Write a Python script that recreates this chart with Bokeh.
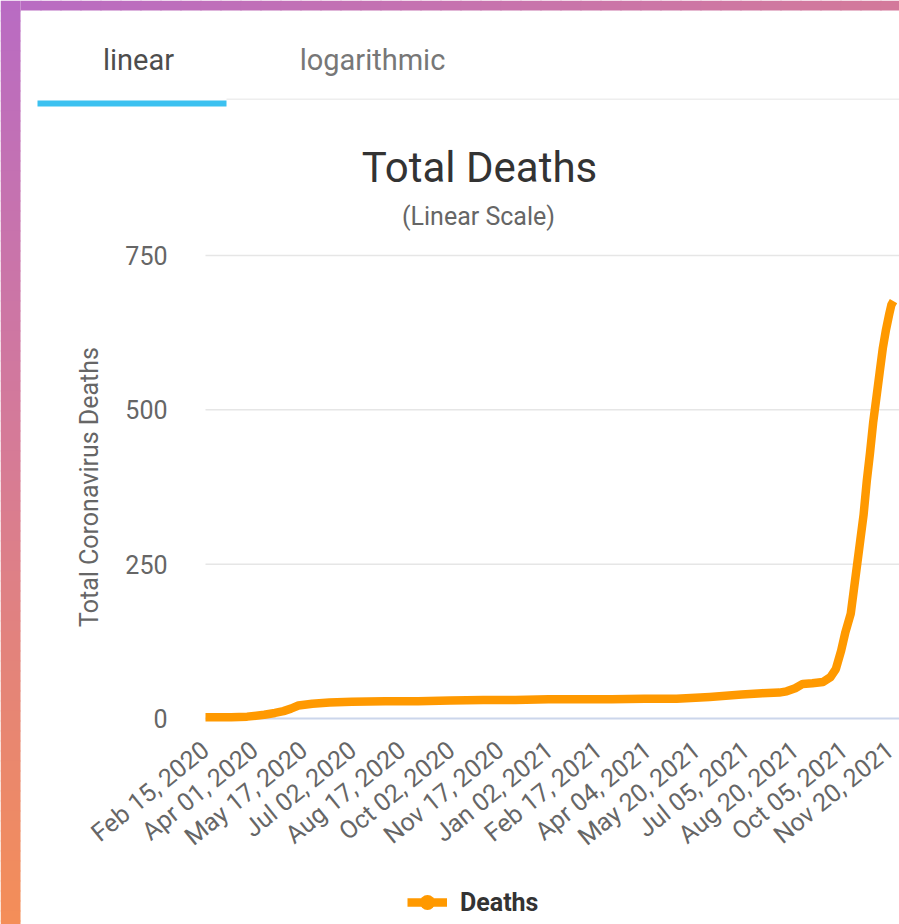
import pandas as pd
from bokeh.plotting import figure
from bokeh.models import (Range1d, FixedTicker, Label, BoxAnnotation, Legend,
                          LegendItem, ColumnDataSource)
from bokeh.embed import file_html
from bokeh.resources import INLINE

# ---------------- data ----------------
dates = [
    "2020-02-15", "2020-03-10", "2020-03-25", "2020-04-10", "2020-04-20",
    "2020-04-28", "2020-05-05", "2020-05-12", "2020-05-25", "2020-06-10",
    "2020-07-01", "2020-08-01", "2020-09-01", "2020-10-01", "2020-11-01",
    "2020-12-01", "2021-01-01", "2021-02-01", "2021-03-01", "2021-04-01",
    "2021-05-01", "2021-06-01", "2021-07-01", "2021-07-20", "2021-08-05",
    "2021-08-12", "2021-08-20", "2021-08-27", "2021-09-05", "2021-09-15",
    "2021-09-22", "2021-09-27", "2021-10-02", "2021-10-06", "2021-10-11",
    "2021-10-14", "2021-10-17", "2021-10-20", "2021-10-23", "2021-10-26",
    "2021-10-29", "2021-11-01", "2021-11-04", "2021-11-07", "2021-11-10",
    "2021-11-13", "2021-11-16", "2021-11-18", "2021-11-20",
]
deaths = [
    2, 2, 3, 6, 9,
    12, 16, 21, 24, 26,
    27, 28, 28, 29, 30,
    30, 31, 31, 31, 32,
    32, 35, 39, 41, 42,
    44, 49, 56, 57, 59,
    67, 80, 110, 140, 170,
    210, 250, 290, 330, 385,
    430, 480, 520, 560, 600,
    630, 655, 670, 676,
]
tick_labels = [
    "Feb 15, 2020", "Apr 01, 2020", "May 17, 2020", "Jul 02, 2020",
    "Aug 17, 2020", "Oct 02, 2020", "Nov 17, 2020", "Jan 02, 2021",
    "Feb 17, 2021", "Apr 04, 2021", "May 20, 2021", "Jul 05, 2021",
    "Aug 20, 2021", "Oct 05, 2021", "Nov 20, 2021",
]
y_ticks = [0, 250, 500, 750]
series_name = "Deaths"

# ---------------- derived ----------------
start = pd.Timestamp(tick_labels[0])
day_index = [(pd.Timestamp(d) - start).days for d in dates]
tick_pos = [(pd.Timestamp(t) - start).days for t in tick_labels]
src = ColumnDataSource(data=dict(x=day_index, y=deaths))

FONT = "Roboto"
ORANGE = "#ff9900"

# ---------------- geometry (canvas pixels) ----------------
W, H = 899, 924
PX_LEFT, PX_RIGHT = 205, 893      # first / last category tick
PY_ZERO, PY_TOP = 718, 255        # y = 0 / y = 750

kx = (PX_RIGHT - PX_LEFT) / (tick_pos[-1] - tick_pos[0])
ky = (PY_ZERO - PY_TOP) / (y_ticks[-1] - y_ticks[0])
x_start = tick_pos[0] - PX_LEFT / kx
x_end = tick_pos[0] + (W - PX_LEFT) / kx
y_start = y_ticks[0] - (H - PY_ZERO) / ky
y_end = y_ticks[0] + PY_ZERO / ky

p = figure(width=W, height=H, output_backend="svg", toolbar_location=None,
           x_range=Range1d(x_start, x_end), y_range=Range1d(y_start, y_end),
           min_border=0)
p.outline_line_color = None
p.background_fill_color = "white"
p.border_fill_color = "white"
p.grid.visible = False

# grid lines (drawn from the y tick list)
grid_colors = ["#ccd6eb" if v == 0 else "#e6e6e6" for v in y_ticks]
p.segment(x0=[tick_pos[0]] * len(y_ticks), x1=[x_end] * len(y_ticks),
          y0=y_ticks, y1=y_ticks, line_color=grid_colors,
          line_width=[2 if v == 0 else 1.5 for v in y_ticks], level="underlay")

xa = p.xaxis[0]
xa.fixed_location = y_ticks[0]
xa.bounds = (tick_pos[0], tick_pos[-1])
xa.ticker = FixedTicker(ticks=tick_pos)
xa.major_label_overrides = dict(zip(tick_pos, tick_labels))
xa.major_label_orientation = 0.68
xa.axis_line_color = None
xa.major_tick_line_color = None
xa.minor_tick_line_color = None
xa.major_tick_out = 0
xa.major_tick_in = 0
xa.major_label_standoff = 28
xa.major_label_text_font = FONT
xa.major_label_text_font_size = "25px"
xa.major_label_text_color = "#666666"

ya = p.yaxis[0]
ya.fixed_location = tick_pos[0]
ya.bounds = (y_ticks[0], y_ticks[-1])
ya.ticker = FixedTicker(ticks=y_ticks)
ya.axis_line_color = None
ya.major_tick_line_color = None
ya.minor_tick_line_color = None
ya.major_tick_out = 0
ya.major_tick_in = 0
ya.major_label_standoff = 38
ya.major_label_text_font = FONT
ya.major_label_text_font_size = "25px"
ya.major_label_text_color = "#666666"
ya.axis_label = "Total Coronavirus Deaths"
ya.axis_label_text_font = FONT
ya.axis_label_text_font_size = "25px"
ya.axis_label_text_font_style = "normal"
ya.axis_label_text_color = "#666666"
ya.axis_label_standoff = 18

line_r = p.line("x", "y", source=src, line_width=8.5, line_color=ORANGE,
                line_join="round", line_cap="butt")
marker_r = p.scatter("x", "y", source=src, size=0, fill_color=ORANGE,
                     line_color=None)

legend = Legend(items=[LegendItem(label=series_name, renderers=[line_r, marker_r])],
                location=(407, 3), orientation="horizontal",
                padding=0, margin=0, spacing=0,
                border_line_color=None, background_fill_alpha=0,
                glyph_width=40, glyph_height=38, label_height=38,
                label_standoff=13, label_text_font=FONT,
                label_text_font_size="25px", label_text_font_style="bold",
                label_text_color="#333333")
p.add_layout(legend)

# ---------------- header texts (screen units, y measured up from bottom) ----------------
def add_text(txt, px, py, size, color, style="normal"):
    p.add_layout(Label(x=px, y=H - py, x_units="screen", y_units="screen", text=txt,
                       text_font=FONT, text_font_size=size, text_color=color,
                       text_font_style=style, text_align="center",
                       text_baseline="middle"))

add_text("linear", 138, 59, "29px", "#4d4d4d")
add_text("logarithmic", 372, 59, "29px", "#777777")
add_text("Total Deaths", 479, 167, "42px", "#333333")
add_text("(Linear Scale)", 478, 216, "25px", "#666666")

def add_box(x0, x1, y0, y1, color):
    p.add_layout(BoxAnnotation(left=x0, right=x1, bottom=H - y1, top=H - y0,
                               left_units="screen", right_units="screen",
                               bottom_units="screen", top_units="screen",
                               fill_color=color, fill_alpha=1, line_color=None,
                               level="overlay"))

add_box(226, W, 98, 99.5, "#eeeeee")     # tab separator
add_box(37, 226, 100, 106, "#3cc1f0")    # active tab underline

# ---------------- decorative gradient frame (left and top strips) ----------------
stops = [(0.0, (184, 107, 196)), (0.5, (214, 123, 150)), (1.0, (244, 142, 88))]

def grad(px, py):
    t = min(1.0, max(0.0, 0.45 * px / W + py / H))
    for (t0, c0), (t1, c1) in zip(stops[:-1], stops[1:]):
        if t <= t1:
            f = (t - t0) / (t1 - t0)
            return "#%02x%02x%02x" % tuple(int(round(a + (b - a) * f)) for a, b in zip(c0, c1))
    return "#%02x%02x%02x" % stops[-1][1]

STRIP_W, STRIP_H, STEP = 20, 10, 10
for y0 in range(0, H, STEP):
    add_box(0, STRIP_W, y0, min(H, y0 + STEP + 1), grad(STRIP_W / 2, y0 + STEP / 2))
for x0 in range(STRIP_W, W, 2 * STEP):
    add_box(x0, min(W, x0 + 2 * STEP + 1), 0, STRIP_H, grad(x0 + STEP, STRIP_H / 2))

open("out.html", "w").write(file_html(p, INLINE))
